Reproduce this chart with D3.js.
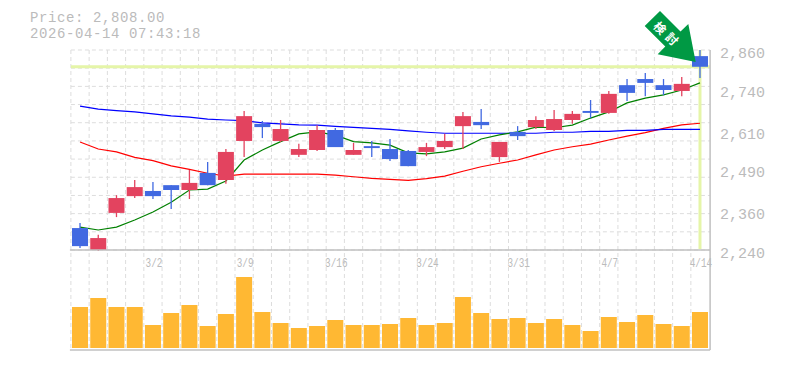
<!DOCTYPE html>
<html>
<head>
<meta charset="utf-8">
<script src="https://cdnjs.cloudflare.com/ajax/libs/d3/7.8.5/d3.min.js"></script>
<style>
html, body { margin: 0; padding: 0; background: #fff; }
svg { display: block; }
text { font-family: "Liberation Mono", monospace; fill: #bbb; }
</style>
</head>
<body>
<svg id="chart" width="785" height="370"></svg>
<script>
const dates = ['2/24','2/25','2/26','2/27','3/2','3/3','3/4','3/5','3/6','3/9','3/10','3/11','3/12','3/13','3/16','3/17','3/18','3/19','3/23','3/24','3/25','3/26','3/27','3/30','3/31','4/1','4/2','4/3','4/6','4/7','4/8','4/9','4/10','4/13','4/14']
const tickDates = ['3/2','3/9','3/16','3/24','3/31','4/7','4/14']
const priceTicks = [2860, 2740, 2610, 2490, 2360, 2240]

const opens = [2308,2240,2355,2407,2423,2441,2426,2479,2457,2578,2631,2578,2535,2550,2612,2535,2562,2553,2547,2544,2559,2624,2637,2528,2606,2621,2612,2643,2671,2665,2751,2770,2751,2733,2841]
const highs = [2324,2287,2410,2457,2451,2441,2488,2513,2553,2671,2640,2643,2569,2627,2618,2572,2578,2584,2550,2572,2600,2668,2677,2575,2624,2655,2674,2671,2705,2733,2770,2789,2770,2776,2860]
const lows = [2246,2237,2342,2401,2398,2367,2398,2441,2445,2528,2587,2575,2528,2547,2559,2535,2528,2516,2500,2531,2553,2553,2615,2513,2581,2615,2609,2631,2649,2662,2702,2717,2720,2717,2773]
const closes = [2252,2277,2401,2435,2407,2426,2448,2441,2544,2655,2621,2615,2553,2612,2559,2550,2556,2522,2500,2559,2578,2655,2627,2575,2593,2643,2646,2662,2665,2724,2727,2758,2736,2755,2808]

const maShort = [2311,2302,2311,2333,2358,2388,2426,2429,2454,2519,2550,2576,2600,2606,2596,2576,2572,2565,2541,2538,2544,2556,2584,2597,2606,2621,2619,2627,2649,2668,2696,2711,2721,2736,2758]
const maMid = [2686,2677,2672,2668,2662,2656,2652,2646,2643,2641,2634,2631,2628,2627,2623,2620,2617,2614,2609,2605,2602,2602,2602,2602,2602,2602,2605,2605,2608,2608,2611,2611,2614,2614,2614]
const maLong = [2575,2553,2544,2527,2517,2501,2490,2478,2469,2475,2475,2475,2475,2475,2472,2467,2462,2459,2456,2461,2469,2484,2498,2509,2519,2535,2550,2560,2568,2581,2593,2604,2617,2628,2633]

const volume = [410,500,410,410,230,350,430,220,340,710,360,250,200,220,280,230,230,240,300,230,250,510,350,290,300,250,290,230,170,310,260,330,240,220,360]

const lastPrice = 2808
const headerLines = ['Price: 2,808.00', '2026-04-14 07:43:18']
const arrowLabel = ['検', '討']

const upColor = '#e3435f'
const downColor = '#4169e1'
const gridColor = '#ddd'
const axisColor = '#c0c0c0'
const markColor = '#e5f5a8'

const plotLeft = 70.9
const plotRight = 709.1
const plotTop = 50
const plotMid = 250
const plotBottom = 348
const barWidth = 16

const svg = d3.select('#chart')

const x = d3.scaleBand().domain(dates).range([plotLeft, plotRight])
const y = d3.scaleLinear().domain([2240, 2860]).range([plotMid, plotTop])
const v = d3.scaleLinear().domain([0, 980]).range([plotBottom, plotMid])
const cx = d => x(d) + x.bandwidth() / 2

const lineFor = values => d3.line()
    .x((_, i) => cx(dates[i]))
    .y(d => y(d))(values)

// grid
const gridY = d3.range(0, 12).map(i => plotTop + i * (plotMid - plotTop) / 11)
svg.append('g')
    .selectAll('line')
    .data(gridY)
    .enter()
    .append('line')
    .attr('x1', plotLeft).attr('x2', plotRight + 1)
    .attr('y1', d => d).attr('y2', d => d)
    .attr('stroke', gridColor)
    .attr('stroke-dasharray', '4,3')

svg.append('g')
    .selectAll('line')
    .data(dates)
    .enter()
    .append('line')
    .attr('x1', d => x(d)).attr('x2', d => x(d))
    .attr('y1', plotTop).attr('y2', plotBottom + 2)
    .attr('stroke', gridColor)
    .attr('stroke-dasharray', '4,3')

// current price markers
svg.append('line')
    .attr('x1', plotLeft).attr('x2', plotRight + 1)
    .attr('y1', y(lastPrice)).attr('y2', y(lastPrice))
    .attr('stroke', markColor).attr('stroke-width', 3)
svg.append('line')
    .attr('x1', cx(dates[dates.length - 1])).attr('x2', cx(dates[dates.length - 1]))
    .attr('y1', plotTop).attr('y2', plotMid - 1)
    .attr('stroke', markColor).attr('stroke-width', 3)

// moving averages
const averages = [[maLong, '#f00'], [maMid, '#00f'], [maShort, '#008000']]
svg.append('g')
    .selectAll('path')
    .data(averages)
    .enter()
    .append('path')
    .attr('d', d => lineFor(d[0]))
    .attr('fill', 'none')
    .attr('stroke', d => d[1])
    .attr('stroke-width', 1.2)

// candles
const colorAt = i => closes[i] >= opens[i] ? upColor : downColor
const candles = svg.append('g')
    .selectAll('g')
    .data(dates)
    .enter()
    .append('g')

candles.append('line')
    .attr('x1', d => cx(d)).attr('x2', d => cx(d))
    .attr('y1', (_, i) => y(highs[i]))
    .attr('y2', (_, i) => y(lows[i]))
    .attr('stroke', (_, i) => colorAt(i))
    .attr('stroke-width', 1.3)

candles.append('rect')
    .attr('x', d => cx(d) - barWidth / 2)
    .attr('width', barWidth)
    .attr('y', (_, i) => y(Math.max(opens[i], closes[i])))
    .attr('height', (_, i) => Math.abs(y(opens[i]) - y(closes[i])))
    .attr('fill', (_, i) => colorAt(i))

// volume
svg.append('g')
    .selectAll('rect')
    .data(dates)
    .enter()
    .append('rect')
    .attr('x', d => cx(d) - barWidth / 2)
    .attr('width', barWidth)
    .attr('y', (_, i) => v(volume[i]))
    .attr('height', (_, i) => plotBottom - v(volume[i]))
    .attr('fill', '#ffb833')

// frame
const frame = svg.append('g').attr('stroke', axisColor).attr('stroke-width', 1.5)
frame.append('line').attr('x1', plotLeft - 1).attr('x2', plotRight + 1).attr('y1', plotMid).attr('y2', plotMid)
frame.append('line').attr('x1', plotLeft - 1).attr('x2', plotRight + 1).attr('y1', plotBottom + 2).attr('y2', plotBottom + 2)
frame.append('line').attr('x1', plotRight + 1).attr('x2', plotRight + 1).attr('y1', plotTop).attr('y2', plotBottom + 2)

// labels
svg.append('g')
    .selectAll('text')
    .data(priceTicks)
    .enter()
    .append('text')
    .attr('x', 720)
    .attr('y', d => y(d) + 8)
    .attr('font-size', 15)
    .text(d3.format(','))

svg.append('g')
    .selectAll('text')
    .data(tickDates)
    .enter()
    .append('text')
    .attr('text-anchor', 'middle')
    .attr('transform', d => `translate(${cx(d) + 1},${plotMid + 17}) scale(0.72,1)`)
    .attr('font-size', 13)
    .text(d => d)

// 14px with a little tracking so the two lines sit clear of each other
svg.append('g')
    .selectAll('text')
    .data(headerLines)
    .enter()
    .append('text')
    .attr('x', 30)
    .attr('y', (_, i) => 22 + i * 16)
    .attr('font-size', 14)
    .attr('letter-spacing', 0.6)
    .text(d => d)

// signal arrow
svg.append('polygon')
    .attr('points', '660,11 680.5,31.5 688.3,24 695.7,62 657.7,54.3 665.3,46.6 644.7,26')
    .attr('fill', '#009944')
svg.append('g')
    .selectAll('text')
    .data(arrowLabel)
    .enter()
    .append('text')
    .attr('text-anchor', 'middle')
    .attr('dy', '.38em')
    .attr('transform', (_, i) => `translate(${660 + i * 12},${28 + i * 11}) rotate(45)`)
    .attr('font-size', 12)
    .attr('font-weight', 'bold')
    .style('font-family', '"Noto Sans CJK JP"')
    .style('fill', '#fff')
    .text(d => d)
</script>
</body>
</html>
